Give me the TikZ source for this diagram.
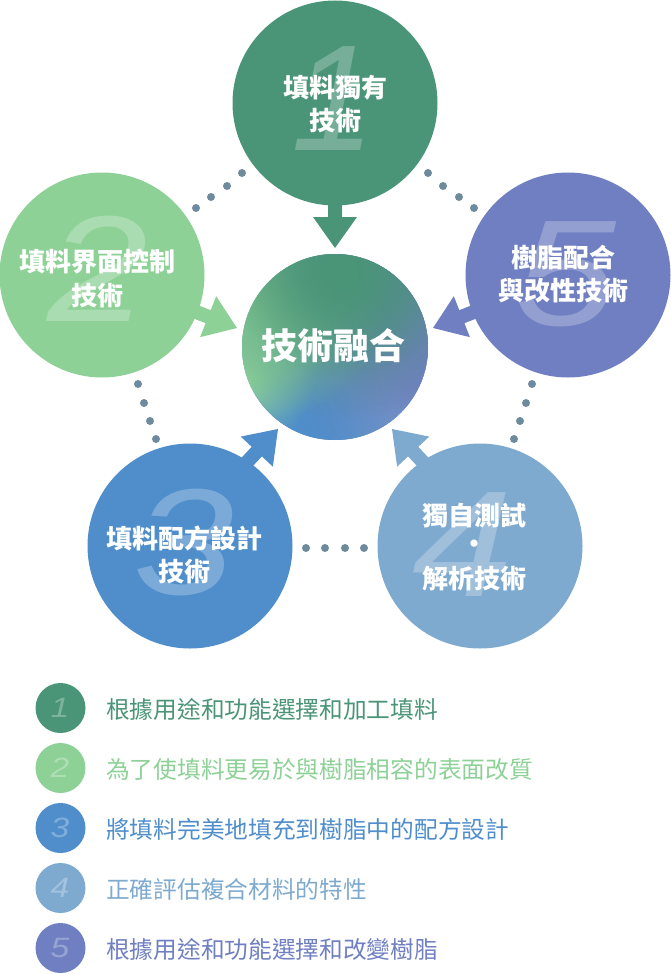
\documentclass[tikz,border=0pt]{standalone}
\usepackage{fontspec}
\newfontfamily\cjk{Noto Sans CJK TC}
\newfontfamily\numfont{Liberation Sans}
\usetikzlibrary{calc,fadings}
\definecolor{cA}{RGB}{74,148,120}
\definecolor{cB}{RGB}{141,209,151}
\definecolor{cC}{RGB}{79,142,203}
\definecolor{cD}{RGB}{127,170,208}
\definecolor{cE}{RGB}{111,127,193}
\definecolor{dotc}{RGB}{110,139,158}
\definecolor{cmid}{RGB}{98,150,178}
\tikzfading[name=blob, inner color=transparent!0, outer color=transparent!100]
\newcommand\fatarrow[3]{%
  \path ($(#2.center)!31pt!(#1.center)$) coordinate (hh);
  \fill[#3] (#2.center) -- ($(hh)!22pt!90:(#2.center)$) -- ($(hh)!7pt!90:(#2.center)$)
    -- ($(#1.center)!7pt!90:(#2.center)$) -- ($(#1.center)!7pt!-90:(#2.center)$)
    -- ($(hh)!7pt!-90:(#2.center)$) -- ($(hh)!22pt!-90:(#2.center)$) -- cycle;}
\newcommand\wide[1]{\scalebox{1.2}[1]{#1}}
\begin{document}
\begin{tikzpicture}[x=1pt,y=-1pt,
  bigc/.style={circle, minimum size=205pt, inner sep=0pt, fill=#1},
  lbl/.style={text=white, inner sep=1pt, font={\cjk\bfseries\fontsize{26}{34}\selectfont}},
  bignum/.style={text=white, text opacity=0.25, inner sep=0pt, font={\numfont\itshape\fontsize{151}{151}\selectfont}},
  dotn/.style={circle, fill=dotc, minimum size=8pt, inner sep=0pt},
  legc/.style={circle, minimum size=50pt, inner sep=0pt, fill=#1},
  legnum/.style={text=#1!72!white, inner sep=0pt, font={\numfont\itshape\fontsize{28}{28}\selectfont}},
  legt/.style={anchor=west, inner sep=0pt, text=#1, font={\cjk\fontsize{23.7}{28}\selectfont}},
]
\useasboundingbox (0,0) rectangle (670,974);
% outer circles
\node[bigc=cA] (n1) at (335,103) {};
\node[bigc=cB] (n2) at (102,275) {};
\node[bigc=cE] (n5) at (568,275) {};
\node[bigc=cC] (n3) at (190,546) {};
\node[bigc=cD] (n4) at (480,546) {};
% arrows (drawn before the texts so their stems stay under them)
\coordinate (t1) at (335,248);
\coordinate (t2) at (237,328);
\coordinate (t5) at (433,328);
\coordinate (t3) at (278,429);
\coordinate (t4) at (392,429);
\coordinate (s3) at (203,509);
\coordinate (s4) at (467,509);
\fatarrow{n1}{t1}{cA}
\fatarrow{n2}{t2}{cB}
\fatarrow{n5}{t5}{cE}
\fatarrow{s3}{t3}{cC}
\fatarrow{s4}{t4}{cD}
% big numerals (translucent white)
\node[bignum] (k1) at (333,99) {1};
\node[bignum] (k2) at (98,269) {\wide{2}};
\node[bignum] (k5) at (566,274) {\wide{5}};
\node[bignum] (k3) at (184,543) {\wide{3}};
\node[bignum] (k4) at (463,545) {\wide{4}};
% labels, one node per line
\node[lbl] (l1a) at (335,88) {填料獨有};
\node[lbl] (l1b) at (335,121) {技術};
\node[lbl] (l2a) at (97,262) {填料界面控制};
\node[lbl] (l2b) at (97,296) {技術};
\node[lbl] (l5a) at (563,258) {樹脂配合};
\node[lbl] (l5b) at (563,291) {與改性技術};
\node[lbl] (l3a) at (184.5,538) {填料配方設計};
\node[lbl] (l3b) at (184.5,572) {技術};
\node[lbl] (l4a) at (474,516) {獨自測試};
\node[lbl] (l4b) at (474,547) {・};
\node[lbl] (l4c) at (474,579) {解析技術};
% centre circle
\node[circle, minimum size=186pt, inner sep=0pt] (c0) at (335,347) {};
\begin{scope}
  \clip (c0.center) circle (93pt);
  \fill[cmid] (c0.center) circle (93pt);
  \fill[cD, path fading=blob] (392,408) circle (120pt);
  \fill[cD, path fading=blob] (392,408) circle (90pt);
  \fill[cC, path fading=blob] (300,425) circle (120pt);
  \fill[cC, path fading=blob] (300,425) circle (100pt);
  \fill[cE, path fading=blob] (430,330) circle (160pt);
  \fill[cE, path fading=blob] (430,330) circle (120pt);
  \fill[cE, path fading=blob] (430,330) circle (90pt);
  \fill[cB, path fading=blob] (245,378) circle (70pt);
  \fill[cB, path fading=blob] (272,308) circle (110pt);
  \fill[cB, path fading=blob] (272,308) circle (80pt);
  \fill[cA, path fading=blob] (342,270) circle (150pt);
  \fill[cA, path fading=blob] (342,270) circle (110pt);
\end{scope}
\node[text=white, inner sep=0pt, font={\cjk\bfseries\fontsize{36}{40}\selectfont}] (ct) at (333,346) {技術融合};
% dots
\foreach \x/\y [count=\k] in {196/208,211/197,227/186,242/173,
  428/173,443/186,459/197,474/208,
  138/384,144/403,150/421,156/439,
  532/384,526/403,520/421,514/439,
  306/548,325/548,345/548,364/548}
  \node[dotn] (d\k) at (\x,\y) {};
% legend
\foreach \col/\txt [count=\k] in {cA/根據用途和功能選擇和加工填料,
  cB/為了使填料更易於與樹脂相容的表面改質,
  cC/將填料完美地填充到樹脂中的配方設計,
  cD/正確評估複合材料的特性,
  cE/根據用途和功能選擇和改變樹脂}
{
  \node[legc=\col] (lc\k) at (60.5,{708+60*(\k-1)}) {};
  \node[legnum=\col] (ln\k) at (60,{708+60*(\k-1)}) {\wide{\k}};
  \node[legt=\col] (lt\k) at (106,{709+60*(\k-1)}) {\txt};
}
\end{tikzpicture}
\end{document}
